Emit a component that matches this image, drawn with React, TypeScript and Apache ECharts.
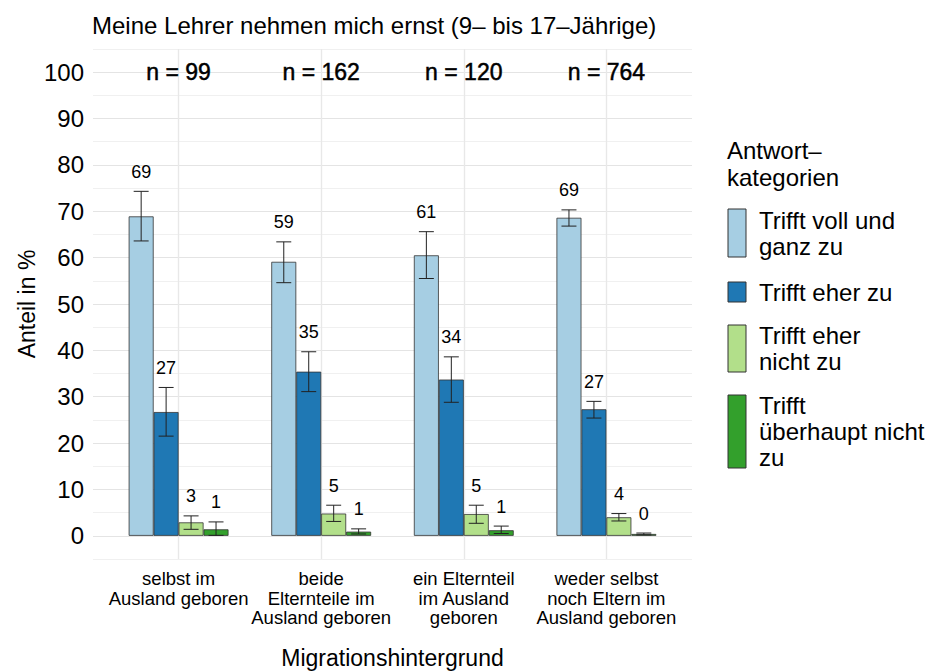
import React, { useEffect, useRef } from 'react';
import * as echarts from 'echarts';

const categories = [
  'selbst im\nAusland geboren',
  'beide\nElternteile im\nAusland geboren',
  'ein Elternteil\nim Ausland\ngeboren',
  'weder selbst\nnoch Eltern im\nAusland geboren',
];
const seriesNames = ['Trifft voll und ganz zu', 'Trifft eher zu', 'Trifft eher nicht zu', 'Trifft überhaupt nicht zu'];
const legendLabels = ['Trifft voll und\nganz zu', 'Trifft eher zu', 'Trifft eher\nnicht zu', 'Trifft\nüberhaupt nicht\nzu'];
const colors = ['#A6CEE3', '#1F78B4', '#B2DF8A', '#33A02C'];
const sampleSizes = [99, 162, 120, 764];

const vollUndGanz = [68.9, 59.1, 60.5, 68.6];
const eher = [26.7, 35.4, 33.7, 27.3];
const eherNicht = [2.9, 4.8, 4.7, 4.0];
const ueberhauptNicht = [1.4, 0.9, 1.2, 0.4];

const lowerVoll = [63.6, 54.6, 55.5, 66.8];
const upperVoll = [74.3, 63.4, 65.6, 70.3];
const lowerEher = [21.5, 31.1, 28.8, 25.4];
const upperEher = [32.0, 39.7, 38.6, 29.0];
const lowerEherNicht = [1.4, 3.1, 2.7, 3.2];
const upperEherNicht = [4.3, 6.6, 6.6, 4.8];
const lowerUeberhaupt = [0.1, 0.4, 0.5, 0.2];
const upperUeberhaupt = [3.0, 1.5, 2.1, 0.6];

const yTicks = [0, 10, 20, 30, 40, 50, 60, 70, 80, 90, 100];

const FONT = '"Liberation Sans", Arial, Helvetica, sans-serif';

export default function App() {
  const ref = useRef<HTMLDivElement>(null);

  useEffect(() => {
    document.body.style.margin = '0';
    const chart = echarts.init(ref.current!, null, { renderer: 'svg' });

    const values = [vollUndGanz, eher, eherNicht, ueberhauptNicht];
    const lowers = [lowerVoll, lowerEher, lowerEherNicht, lowerUeberhaupt];
    const uppers = [upperVoll, upperEher, upperEherNicht, upperUeberhaupt];

    const errData: number[][] = [];
    values.forEach((vals, s) => {
      vals.forEach((v, c) => {
        errData.push([c, s, lowers[s][c], uppers[s][c], v]);
      });
    });

    const nData = sampleSizes.map((n, c) => [c, 100, n]);

    const barSeries = values.map((vals, s) => ({
      name: seriesNames[s],
      type: 'bar',
      xAxisIndex: 1,
      yAxisIndex: 1,
      data: vals,
      barGap: '0%',
      barCategoryGap: '30%',
      itemStyle: { color: colors[s], borderColor: '#333', borderWidth: 0.8 },
      z: 2,
    }));

    const legendGraphics: any[] = [
      {
        type: 'text',
        x: 727,
        y: 164,
        style: {
          text: 'Antwort–\nkategorien',
          fontSize: 24,
          lineHeight: 27,
          fontFamily: FONT,
          fill: '#000',
          verticalAlign: 'middle',
          align: 'left',
        },
      },
    ];
    const keyBoxes = [
      [209, 48],
      [282, 20],
      [325, 47],
      [395, 73],
    ];
    keyBoxes.forEach(([y, h], i) => {
      legendGraphics.push({
        type: 'rect',
        shape: { x: 728, y, width: 18, height: h },
        style: { fill: colors[i], stroke: '#333', lineWidth: 1 },
      });
      legendGraphics.push({
        type: 'text',
        x: 759,
        y: y + h / 2,
        style: {
          text: legendLabels[i],
          fontSize: 24,
          lineHeight: 26,
          fontFamily: FONT,
          fill: '#000',
          verticalAlign: 'middle',
          align: 'left',
        },
      });
    });
    legendGraphics.push({
      type: 'text',
      x: 27,
      y: 304,
      rotation: Math.PI / 2,
      style: {
        text: 'Anteil in %',
        fontSize: 23,
        fontFamily: FONT,
        fill: '#000',
        align: 'center',
        verticalAlign: 'middle',
      },
    });
    legendGraphics.push({
      type: 'text',
      x: 392.5,
      y: 658,
      style: {
        text: 'Migrationshintergrund',
        fontSize: 23,
        fontFamily: FONT,
        fill: '#000',
        align: 'center',
        verticalAlign: 'middle',
      },
    });

    const option: any = {
      animation: false,
      backgroundColor: '#fff',
      textStyle: { fontFamily: FONT },
      title: {
        text: 'Meine Lehrer nehmen mich ernst (9– bis 17–Jährige)',
        left: 87,
        top: 8,
        textStyle: { fontSize: 24, fontWeight: 'normal', color: '#000', fontFamily: FONT },
      },
      grid: [
        { left: 93, right: 236, top: 49, bottom: 112, outerBoundsMode: 'none', containLabel: false },
        { left: 107.3, right: 250.3, top: 49, bottom: 112, outerBoundsMode: 'none', containLabel: false },
      ],
      xAxis: [
        {
          type: 'value',
          gridIndex: 0,
          min: 0.4,
          max: 4.6,
          interval: 0.2,
          axisLabel: { show: false },
          axisLine: { show: false },
          axisTick: { show: false },
          splitLine: {
            show: true,
            lineStyle: {
              color: ['rgba(0,0,0,0)', 'rgba(0,0,0,0)', 'rgba(0,0,0,0)', '#e8e8e8', 'rgba(0,0,0,0)'],
              width: 1.4,
            },
          },
        },
        {
          type: 'category',
          gridIndex: 1,
          data: categories,
          axisLine: { show: false },
          axisTick: { show: false },
          splitLine: { show: false },
          axisLabel: {
            interval: 0,
            fontSize: 18.5,
            lineHeight: 19.5,
            color: '#000',
            margin: 10,
            fontFamily: FONT,
          },
        },
      ],
      yAxis: [
        {
          type: 'value',
          gridIndex: 0,
          min: -5,
          max: 105,
          interval: 5,
          axisLine: { show: false },
          axisTick: { show: false },
          axisLabel: {
            fontSize: 24,
            color: '#000',
            margin: 9,
            fontFamily: FONT,
            formatter: (v: number) => (yTicks.includes(Math.round(v)) ? String(Math.round(v)) : ''),
          },
          splitLine: {
            show: true,
            lineStyle: { color: ['#f0f0f0', '#e4e4e4'], width: 1.2 },
          },
        },
        {
          type: 'value',
          gridIndex: 1,
          min: -5,
          max: 105,
          show: false,
          splitLine: { show: false },
        },
      ],
      series: [
        ...barSeries,
        {
          type: 'custom',
          xAxisIndex: 1,
          yAxisIndex: 1,
          z: 5,
          silent: true,
          data: errData,
          encode: { x: 0, y: [2, 3] },
          renderItem: (params: any, api: any) => {
            const c = api.value(0);
            const s = api.value(1);
            const lo = api.value(2);
            const hi = api.value(3);
            const v = api.value(4);
            const band = api.size([1, 0])[0];
            const barW = (band * 0.7) / 4;
            const cx = api.coord([c, 0])[0] + (s - 1.5) * barW;
            const yLo = api.coord([c, lo])[1];
            const yHi = api.coord([c, hi])[1];
            const half = barW * 0.3;
            const ls = { stroke: '#222', lineWidth: 1 };
            return {
              type: 'group',
              children: [
                { type: 'line', shape: { x1: cx, y1: yLo, x2: cx, y2: yHi }, style: ls },
                { type: 'line', shape: { x1: cx - half, y1: yLo, x2: cx + half, y2: yLo }, style: ls },
                { type: 'line', shape: { x1: cx - half, y1: yHi, x2: cx + half, y2: yHi }, style: ls },
                {
                  type: 'text',
                  x: cx,
                  y: yHi - 19.5,
                  style: {
                    text: String(Math.round(v)),
                    fontSize: 18,
                    fontFamily: FONT,
                    fill: '#000',
                    align: 'center',
                    verticalAlign: 'middle',
                  },
                },
              ],
            };
          },
        },
        {
          type: 'custom',
          xAxisIndex: 1,
          yAxisIndex: 1,
          z: 6,
          silent: true,
          data: nData,
          encode: { x: 0, y: 1 },
          renderItem: (params: any, api: any) => {
            const p = api.coord([api.value(0), api.value(1)]);
            return {
              type: 'text',
              x: p[0],
              y: p[1],
              style: {
                text: 'n = ' + api.value(2),
                fontSize: 23,
                fontFamily: FONT,
                fill: '#000',
                stroke: '#000',
                lineWidth: 0.5,
                align: 'center',
                verticalAlign: 'middle',
              },
            };
          },
        },
      ],
      graphic: legendGraphics,
    };

    chart.setOption(option);
    return () => chart.dispose();
  }, []);

  return (
    <div
      ref={ref}
      style={{ position: 'absolute', left: 0, top: 0, width: 928, height: 671 }}
    />
  );
}
